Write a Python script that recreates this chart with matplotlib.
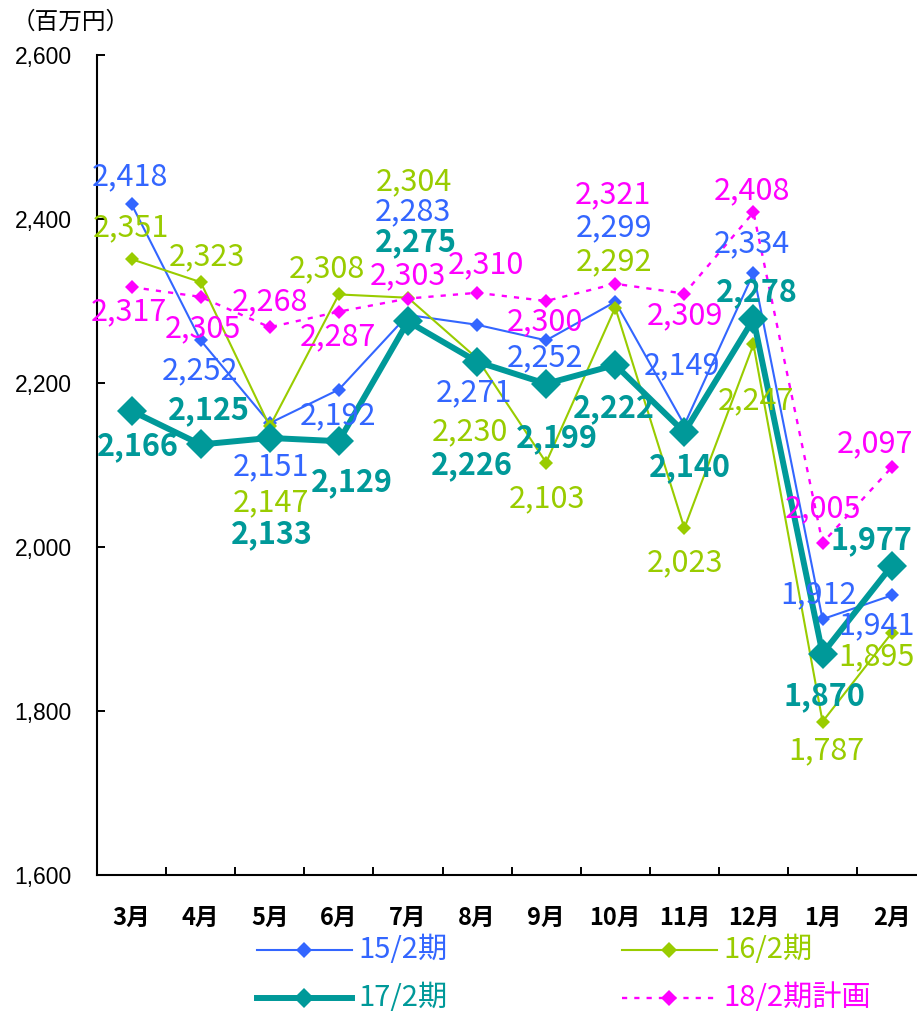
import matplotlib
matplotlib.use("Agg")
import matplotlib.pyplot as plt
from matplotlib.lines import Line2D

plt.rcParams["font.family"] = ["Noto Sans CJK JP", "DejaVu Sans"]

months = ["3月", "4月", "5月", "6月", "7月", "8月", "9月", "10月", "11月", "12月", "1月", "2月"]
y_ticks = [1600, 1800, 2000, 2200, 2400, 2600]

fy15 = [2418, 2252, 2151, 2192, 2283, 2271, 2252, 2299, 2149, 2334, 1912, 1941]
fy16 = [2351, 2323, 2147, 2308, 2304, 2230, 2103, 2292, 2023, 2247, 1787, 1895]
fy17 = [2166, 2125, 2133, 2129, 2275, 2226, 2199, 2222, 2140, 2278, 1870, 1977]
fy18_plan = [2317, 2305, 2268, 2287, 2303, 2310, 2300, 2321, 2309, 2408, 2005, 2097]

# label offsets from each point, in pixels (dx right, dy down)
off15 = [(-2, -27), (-1, 30), (1, 44), (-1, 26), (5, -103), (-3, 68),
         (-1, 17), (-1, -74), (-2, -59), (-2, -29), (-4, -24), (-15, 30)]
off16 = [(-1, -31), (6, -25), (1, 76), (-12, -26), (6, -116), (-7, 73),
         (1, 36), (-1, -46), (1, 35), (2, 56), (4, 29), (-15, 24)]
off17 = [(6, 35), (8, -34), (2, 96), (13, 41), (8, -79), (-5, 103),
         (11, 54), (-1, 43), (6, 35), (3, -27), (2, 43), (-20, -26)]
off18 = [(-3, 25), (2, 32), (0, -25), (-1, 25), (0, -23), (9, -28),
         (-1, 21), (-2, -89), (1, 22), (-2, -22), (0, -34), (-17, -24)]

BLUE = "#3366FF"
GREEN = "#99CC00"
TEAL = "#009999"
MAGENTA = "#FF00FF"
DOT = (0, (2.2, 3.0))

W, H = 917, 1013
fig = plt.figure(figsize=(W / 100, H / 100), dpi=100)
ax = fig.add_axes([97 / W, 138 / H, 820 / W, 820 / H])

x = list(range(len(months)))
series = [
    (fy15, off15, BLUE, "-", 1.5, 7.5, "normal"),
    (fy16, off16, GREEN, "-", 1.5, 7.0, "normal"),
    (fy17, off17, TEAL, "-", 4.3, 15.0, "bold"),
    (fy18_plan, off18, MAGENTA, DOT, 1.7, 7.0, "normal"),
]

for z, (vals, offs, color, ls, lw, ms, weight) in enumerate(series):
    ax.plot(x, vals, color=color, linestyle=ls, linewidth=lw, marker="D",
            markersize=ms, markeredgewidth=0, zorder=3 + z, clip_on=False)
    for i, v in enumerate(vals):
        dx, dy = offs[i]
        ax.annotate("{:,}".format(v), (i, v), xytext=(dx * 0.72, -dy * 0.72),
                    textcoords="offset points", ha="center", va="center",
                    color=color, fontsize=22, fontweight=weight,
                    zorder=10, annotation_clip=False)

ax.set_xlim(-0.5, -0.5 + 820 / 69.1)
ax.set_ylim(1600, 2600)
ax.set_yticks(y_ticks)
ax.set_yticklabels(["{:,}".format(t) for t in y_ticks], family="Liberation Sans",
                   fontsize=16.5)
ax.tick_params(axis="y", direction="in", length=6, width=1.4, pad=18)

ax.set_xticks(x)
ax.set_xticklabels(months, fontsize=17, fontweight="bold")
ax.set_xticks([i + 0.5 for i in range(len(months) - 1)], minor=True)
ax.tick_params(axis="x", which="major", length=0, pad=22)
ax.tick_params(axis="x", which="minor", direction="in", length=6, width=1.4)

for side in ["top", "right"]:
    ax.spines[side].set_visible(False)
for side in ["left", "bottom"]:
    ax.spines[side].set_linewidth(1.5)

fig.text(12 / W, 1 - 22 / H, "（百万円）", fontsize=17, ha="left", va="center")


def legend_entry(x0, y0, color, ls, lw, ms, label):
    yy = 1 - y0 / H
    fig.add_artist(Line2D([x0 / W, (x0 + 95) / W], [yy, yy], color=color,
                          linestyle=ls, linewidth=lw, transform=fig.transFigure))
    fig.add_artist(Line2D([(x0 + 47) / W], [yy], color=color, marker="D",
                          markersize=ms, markeredgewidth=0, linestyle="none",
                          transform=fig.transFigure))
    fig.text((x0 + 101) / W, yy, label, color=color, fontsize=21,
             ha="left", va="center")


legend_entry(257, 950, BLUE, "-", 1.5, 8, "15/2期")
legend_entry(622, 950, GREEN, "-", 1.5, 8, "16/2期")
legend_entry(257, 998, TEAL, "-", 4.3, 10, "17/2期")
legend_entry(622, 998, MAGENTA, DOT, 1.7, 8, "18/2期計画")

fig.savefig("out.png", dpi=100)
